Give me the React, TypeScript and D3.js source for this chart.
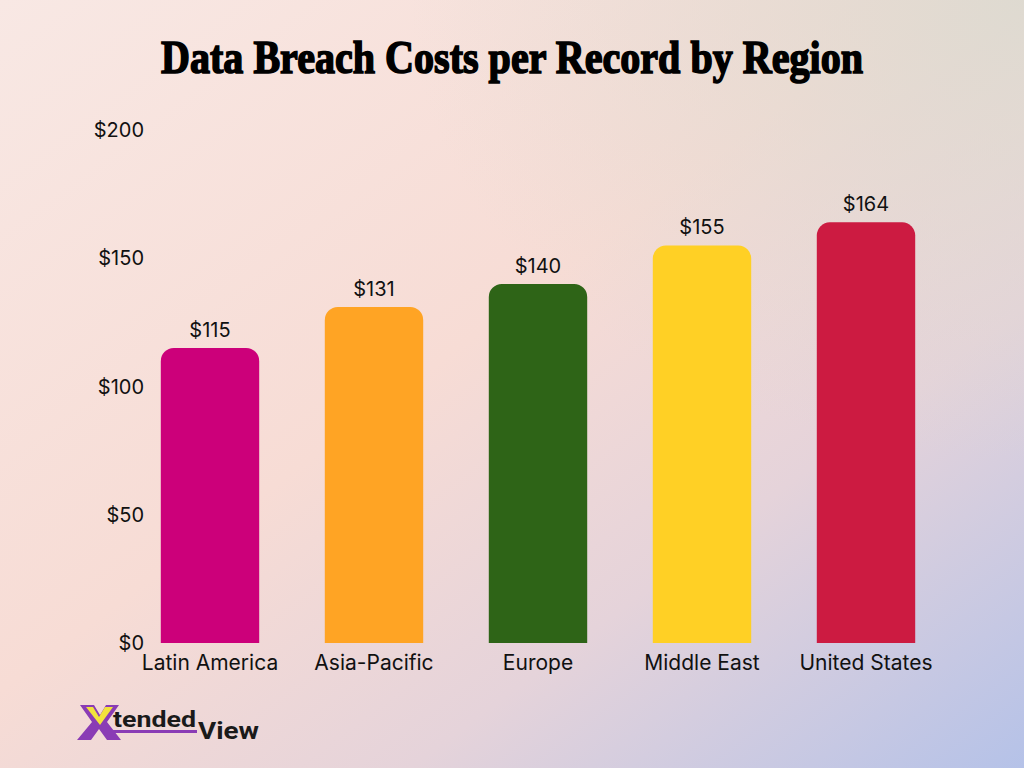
import * as d3 from 'd3'
import React, { useEffect, useRef } from "react";

const regions = ['Latin America', 'Asia-Pacific', 'Europe', 'Middle East', 'United States'];
const costs = [115, 131, 140, 155, 164];
const barColors = ['#CC007A', '#FFA424', '#2E6417', '#FFD025', '#CC1B41'];
const yTicks = [0, 50, 100, 150, 200];

const W = 1024;
const H = 768;

const App: React.FC = () => {
    const ref = useRef<SVGSVGElement>(null);

    useEffect(() => {
        document.body.style.margin = '0';
        if (!ref.current) return;
        const svg = d3.select(ref.current);
        svg.selectAll('*').remove();

        const defs = svg.append('defs');
        const lg = defs.append('linearGradient').attr('id', 'bg')
            .attr('x1', '0').attr('y1', '0').attr('x2', '1').attr('y2', '1');
        lg.append('stop').attr('offset', '0%').attr('stop-color', '#F8E8E4');
        lg.append('stop').attr('offset', '45%').attr('stop-color', '#F7DCD5');
        lg.append('stop').attr('offset', '70%').attr('stop-color', '#E5D3DA');
        lg.append('stop').attr('offset', '100%').attr('stop-color', '#B5C2E8');
        const rg = defs.append('radialGradient').attr('id', 'tr')
            .attr('cx', '1').attr('cy', '0').attr('r', '0.6');
        rg.append('stop').attr('offset', '0%').attr('stop-color', '#DCDAD0').attr('stop-opacity', 0.9);
        rg.append('stop').attr('offset', '100%').attr('stop-color', '#DCDAD0').attr('stop-opacity', 0);

        svg.append('rect').attr('width', W).attr('height', H).attr('fill', 'url(#bg)');
        svg.append('rect').attr('width', W).attr('height', H).attr('fill', 'url(#tr)');

        // title
        svg.append('text')
            .attr('x', 512).attr('y', 73)
            .attr('text-anchor', 'middle')
            .attr('font-family', '"Liberation Serif", serif')
            .attr('font-weight', 'bold')
            .attr('font-size', 46)
            .attr('stroke', '#000').attr('stroke-width', 1.6)
            .attr('textLength', 702).attr('lengthAdjust', 'spacingAndGlyphs')
            .attr('fill', '#000')
            .text('Data Breach Costs per Record by Region');

        const x = d3.scaleBand<string>().domain(regions).range([128, 948])
            .paddingInner(0.4).paddingOuter(0.2);
        const y = d3.scaleLinear().domain([0, 200]).range([643, 130]);

        const font = 'Inter, "Noto Sans", sans-serif';

        svg.append('g').selectAll('text').data(yTicks).join('text')
            .attr('x', 144).attr('y', d => y(d))
            .attr('dy', '0.36em')
            .attr('text-anchor', 'end')
            .attr('font-family', font).attr('font-size', 20).attr('fill', '#111')
            .text(d => `$${d}`);

        const r = 13;
        const bw = x.bandwidth();
        svg.append('g').selectAll('path').data(costs).join('path')
            .attr('fill', (_, i) => barColors[i])
            .attr('d', (d, i) => {
                const x0 = x(regions[i])!;
                const y0 = y(d);
                const yb = y(0);
                const p = d3.path();
                p.moveTo(x0, yb);
                p.lineTo(x0, y0 + r);
                p.arcTo(x0, y0, x0 + r, y0, r);
                p.lineTo(x0 + bw - r, y0);
                p.arcTo(x0 + bw, y0, x0 + bw, y0 + r, r);
                p.lineTo(x0 + bw, yb);
                p.closePath();
                return p.toString();
            });

        svg.append('g').selectAll('text').data(costs).join('text')
            .attr('x', (_, i) => x(regions[i])! + bw / 2)
            .attr('y', d => y(d) - 11)
            .attr('text-anchor', 'middle')
            .attr('font-family', font).attr('font-size', 20).attr('fill', '#111')
            .text(d => `$${d}`);

        svg.append('g').selectAll('text').data(regions).join('text')
            .attr('x', d => x(d)! + bw / 2)
            .attr('y', 670)
            .attr('text-anchor', 'middle')
            .attr('font-family', font).attr('font-size', 21).attr('fill', '#111')
            .text(d => d);

        // logo
        const logo = svg.append('g');
        logo.append('path')
            .attr('d', 'M80,705 L94,705 L100,715 L106,705 L119,705 L107,722 L121,740 L107,740 L99,729 L91,740 L77,740 L92,722 Z')
            .attr('fill', '#8A3CB5');
        logo.append('path')
            .attr('d', 'M86,707 L93,707 L99,717 L105,707 L113,707 L100,725 Z')
            .attr('fill', '#F2E33C');
        logo.append('text')
            .attr('x', 113).attr('y', 727)
            .attr('font-family', 'Roboto, sans-serif').attr('font-weight', 'bold')
            .attr('font-size', 22).attr('fill', '#1a1a1a')
            .attr('textLength', 83).attr('lengthAdjust', 'spacingAndGlyphs')
            .text('tended');
        logo.append('rect').attr('x', 112).attr('y', 730).attr('width', 85).attr('height', 3).attr('fill', '#8A3CB5');
        logo.append('text')
            .attr('x', 198).attr('y', 739)
            .attr('font-family', 'Roboto, sans-serif').attr('font-weight', 'bold')
            .attr('font-size', 24).attr('fill', '#1a1a1a')
            .attr('textLength', 61).attr('lengthAdjust', 'spacingAndGlyphs')
            .text('View');
    }, []);

    return (<svg ref={ref} width={W} height={H} style={{ position: 'absolute', left: 0, top: 0 }}></svg>);
}

export default App;
